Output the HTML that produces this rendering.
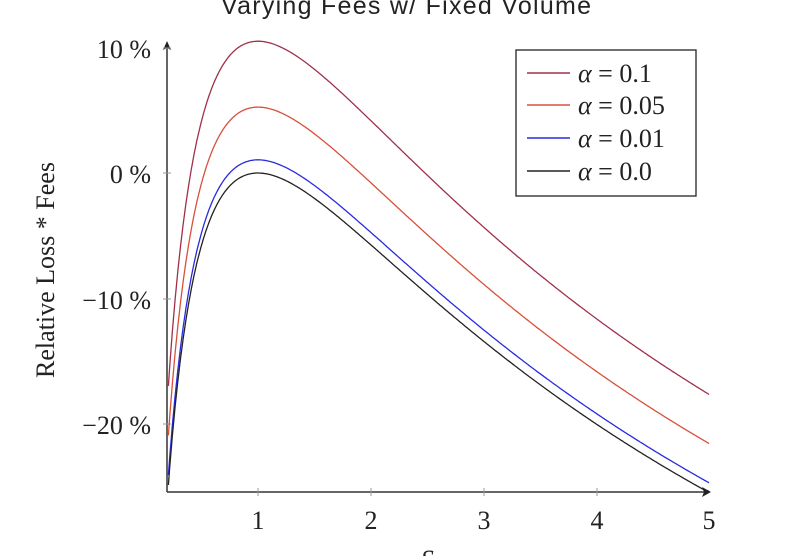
<!DOCTYPE html>
<html><head><style>
body{margin:0;background:#fff;}
svg{display:block}
.t{font-family:"Liberation Serif",serif;font-size:26px;fill:#222}
</style></head><body>
<svg id="s" width="788" height="556" viewBox="0 0 788 556" xmlns="http://www.w3.org/2000/svg">
<text x="406" y="14" text-anchor="middle" font-family="Liberation Sans,sans-serif" font-size="25" fill="#222" textLength="370">Varying Fees w/ Fixed Volume</text>
<line x1="167" y1="492" x2="705" y2="492" stroke="#333" stroke-width="1.5"/>
<polygon points="711,492 702,487 704,492 702,497" fill="#222"/>
<line x1="167" y1="492" x2="167" y2="48" stroke="#333" stroke-width="1.5"/>
<polygon points="167,41 163,50 167,48 171,50" fill="#222"/>
<g stroke="#999" stroke-width="1">
<line x1="258" y1="488" x2="258" y2="496"/><line x1="371" y1="488" x2="371" y2="496"/><line x1="484" y1="488" x2="484" y2="496"/><line x1="597" y1="488" x2="597" y2="496"/>
<line x1="163" y1="48" x2="171" y2="48"/><line x1="163" y1="173" x2="171" y2="173"/><line x1="163" y1="299" x2="171" y2="299"/><line x1="163" y1="424" x2="171" y2="424"/>
</g>
<g class="t" text-anchor="middle">
<text x="258" y="529">1</text><text x="371" y="529">2</text><text x="484" y="529">3</text><text x="597" y="529">4</text><text x="709" y="529">5</text>
</g>
<g class="t" text-anchor="end">
<text x="151" y="58">10 %</text><text x="151" y="183">0 %</text><text x="151" y="309">−10 %</text><text x="151" y="434">−20 %</text>
</g>
<text class="t" x="0" y="0" transform="translate(54,270) rotate(-90)" text-anchor="middle">Relative Loss * Fees</text>
<text class="t" x="432" y="568" text-anchor="middle" font-style="italic">S<tspan font-size="17" dy="4">T</tspan></text>
<g id="curves" fill="none" stroke-width="1.3"></g>
<rect x="516" y="50" width="180" height="146" fill="#fff" stroke="#222" stroke-width="1.3"/>
<g stroke-width="1.5">
<line x1="527" y1="73" x2="570" y2="73" stroke="#a0304a"/>
<line x1="527" y1="105" x2="570" y2="105" stroke="#d9503a"/>
<line x1="527" y1="138" x2="570" y2="138" stroke="#2a2ae0"/>
<line x1="527" y1="171" x2="570" y2="171" stroke="#222"/>
</g>
<g class="t" font-size="27">
<text x="578" y="82"><tspan font-style="italic">α</tspan> = 0.1</text>
<text x="578" y="114"><tspan font-style="italic">α</tspan> = 0.05</text>
<text x="578" y="147"><tspan font-style="italic">α</tspan> = 0.01</text>
<text x="578" y="180"><tspan font-style="italic">α</tspan> = 0.0</text>
</g>
</svg>
<script>
var g=document.getElementById('curves');
var ser=[[0.1,'#a0304a'],[0.05,'#d9503a'],[0.01,'#2a2ae0'],[0,'#222']];
ser.forEach(function(s){
 var p=[];
 for(var i=0;i<=400;i++){
  var x=0.205+(5-0.205)*i/400;
  var f=2*Math.sqrt(x)/(1+x);
  var v=(f*(1+s[0]*1.05)-1)*100;
  var y=Math.min(491,173-12.55*v);
  p.push((258+(x-1)*112.75).toFixed(1)+','+y.toFixed(1));
 }
 var pl=document.createElementNS('http://www.w3.org/2000/svg','polyline');
 pl.setAttribute('points',p.join(' '));pl.setAttribute('stroke',s[1]);
 g.appendChild(pl);
});
</script>
</body></html>
